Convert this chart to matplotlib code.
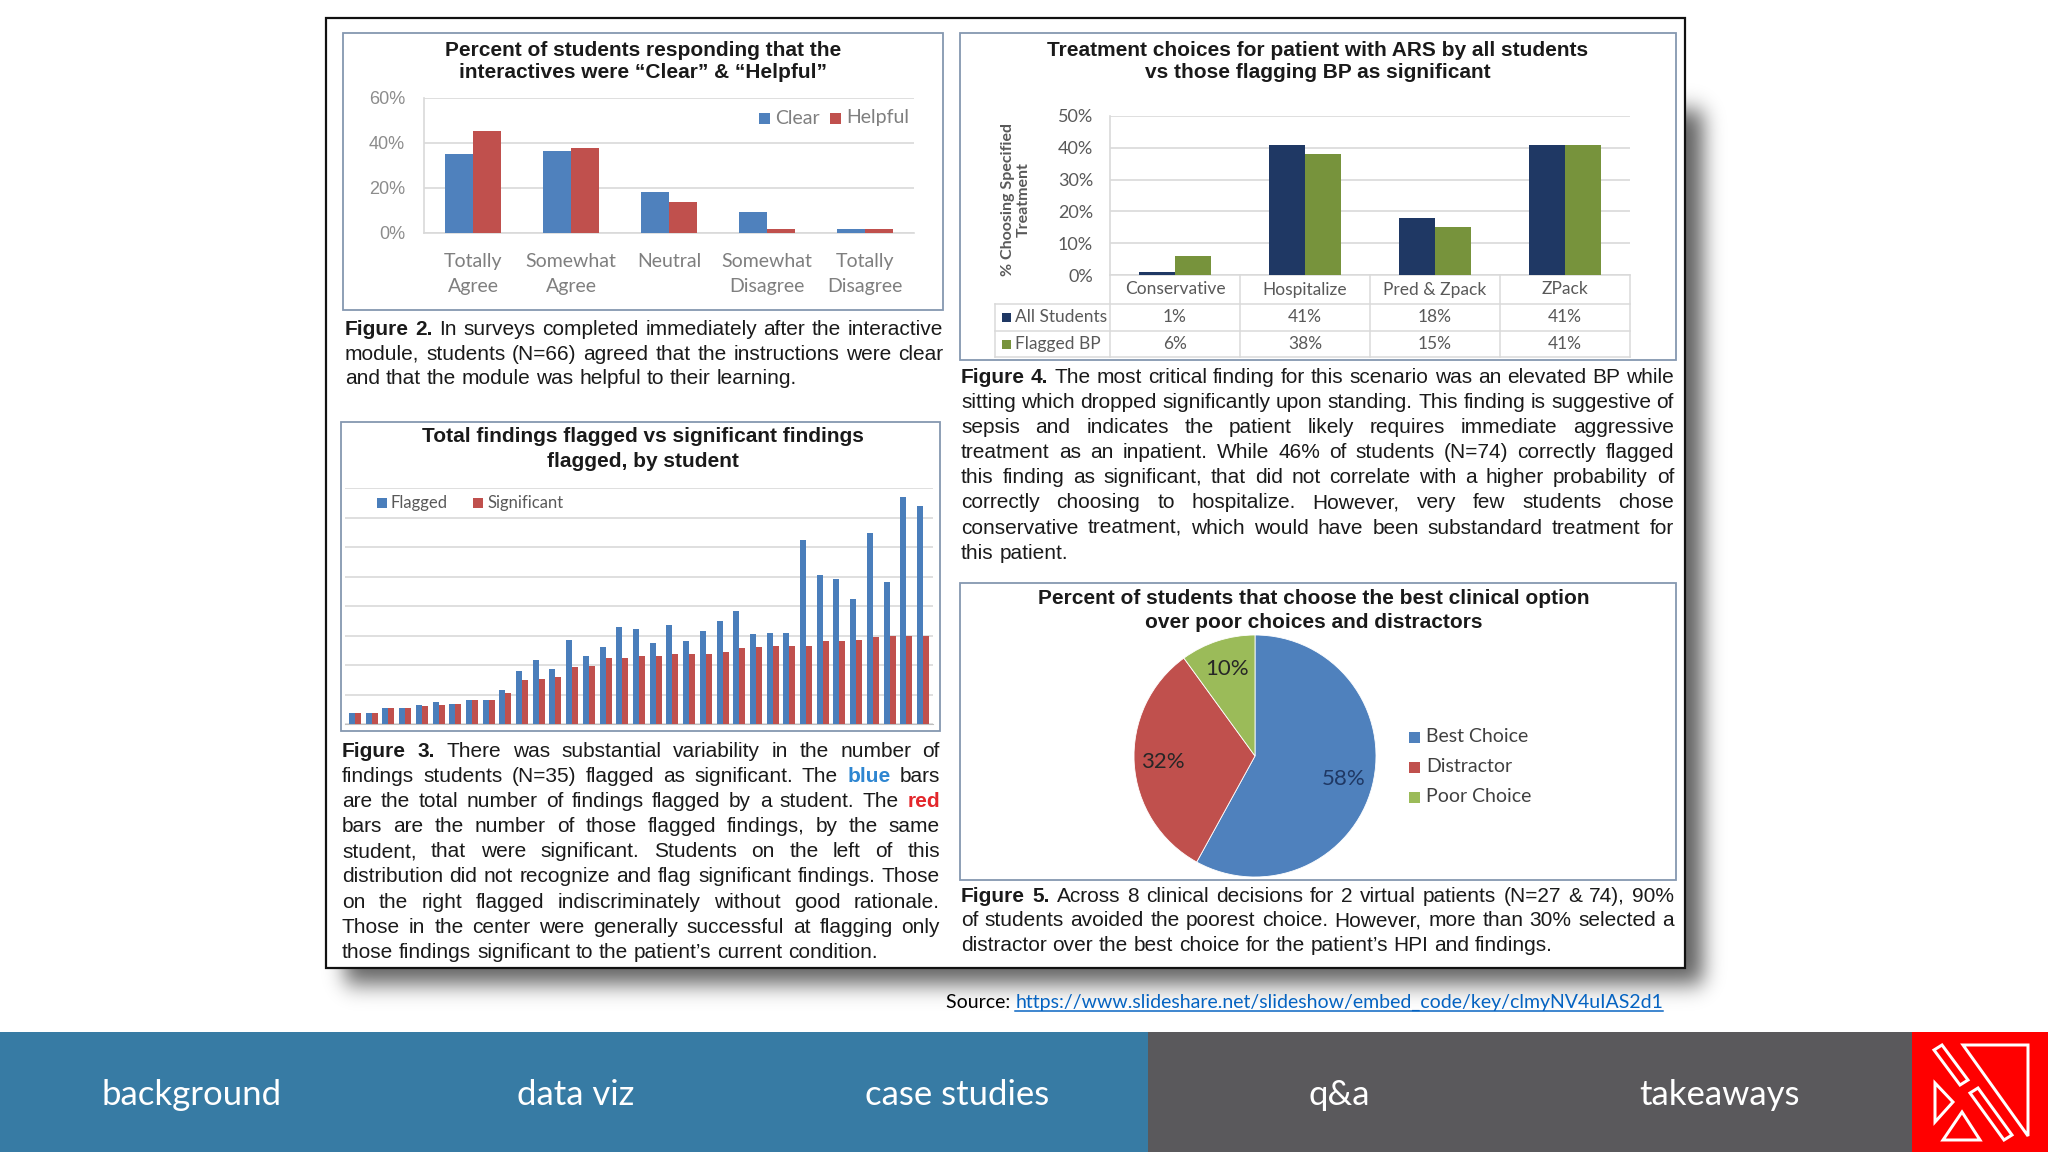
import math
import numpy as np
import matplotlib
matplotlib.use('Agg')
import matplotlib.pyplot as plt
from matplotlib.patches import Rectangle, Polygon

# ---------------- data ----------------
fig2_categories = ['Totally\nAgree', 'Somewhat\nAgree', 'Neutral', 'Somewhat\nDisagree', 'Totally\nDisagree']
fig2_clear = [34.8, 36.4, 18.2, 9.1, 1.5]
fig2_helpful = [45.5, 37.9, 13.6, 1.5, 1.5]
fig2_yticks = [0, 20, 40, 60]
fig2_series = ['Clear', 'Helpful']

fig3_flagged = [1.8, 1.8, 2.7, 2.7, 3.2, 3.7, 3.4, 4.0, 4.0, 5.7, 8.9, 10.9, 9.4, 14.2, 11.5,
                13.0, 16.4, 16.1, 13.7, 16.7, 14.0, 15.7, 17.4, 19.2, 15.3, 15.4, 15.4, 31.2,
                25.3, 24.5, 21.2, 32.4, 24.0, 38.5, 37.0]
fig3_significant = [1.8, 1.8, 2.7, 2.7, 3.0, 3.3, 3.4, 4.0, 4.0, 5.3, 7.5, 7.7, 8.0, 9.7, 9.9,
                    11.2, 11.2, 11.5, 11.5, 11.8, 11.9, 11.9, 12.2, 12.9, 13.0, 13.2, 13.2, 13.2,
                    14.0, 14.0, 14.2, 14.7, 15.0, 15.0, 15.0]
fig3_series = ['Flagged', 'Significant']

fig4_categories = ['Conservative', 'Hospitalize', 'Pred & Zpack', 'ZPack']
fig4_all = [1, 41, 18, 41]
fig4_flagged_bp = [6, 38, 15, 41]
fig4_series = ['All Students', 'Flagged BP']
fig4_yticks = [0, 10, 20, 30, 40, 50]

fig5_labels = ['Best Choice', 'Distractor', 'Poor Choice']
fig5_values = [58, 32, 10]

nav_items = ['background', 'data viz', 'case studies', 'q&a', 'takeaways']

titles = {
    'f2': ['Percent of students responding that the', 'interactives were \u201cClear\u201d & \u201cHelpful\u201d'],
    'f3': ['Total findings flagged vs significant findings', 'flagged, by student'],
    'f4': ['Treatment choices for patient with ARS by all students', 'vs those flagging BP as significant'],
    'f5': ['Percent of students that choose the best clinical option', 'over poor choices and distractors'],
}
cap2 = ["*Figure *2. In surveys completed immediately after the interactive",
        "module, students (N=66) agreed that the instructions were clear",
        "and that the module was helpful to their learning."]
cap3 = ["*Figure *3. There was substantial variability in the number of",
        "findings students (N=35) flagged as significant. The @blue bars",
        "are the total number of findings flagged by a student. The ^red",
        "bars are the number of those flagged findings, by the same",
        "student, that were significant. Students on the left of this",
        "distribution did not recognize and flag significant findings. Those",
        "on the right flagged indiscriminately without good rationale.",
        "Those in the center were generally successful at flagging only",
        "those findings significant to the patient\u2019s current condition."]
cap4 = ["*Figure *4. The most critical finding for this scenario was an elevated BP while",
        "sitting which dropped significantly upon standing. This finding is suggestive of",
        "sepsis and indicates the patient likely requires immediate aggressive",
        "treatment as an inpatient. While 46% of students (N=74) correctly flagged",
        "this finding as significant, that did not correlate with a higher probability of",
        "correctly choosing to hospitalize. However, very few students chose",
        "conservative treatment, which would have been substandard treatment for",
        "this patient."]
cap5 = ["*Figure *5. Across 8 clinical decisions for 2 virtual patients (N=27 & 74), 90%",
        "of students avoided the poorest choice.  However, more than 30% selected a",
        "distractor over the best choice for the patient\u2019s HPI and findings."]
source_label = 'Source: '
source_url = 'https://www.slideshare.net/slideshow/embed_code/key/clmyNV4uIAS2d1'

# ---------------- setup ----------------
W, H = 2048, 1152
fig = plt.figure(figsize=(W / 100, H / 100), dpi=100)
fig.patch.set_facecolor('white')
bg = fig.add_axes([0, 0, 1, 1], zorder=0)
bg.axis('off')

TXT = '#1a1a1a'
SANS = ['Liberation Sans', 'DejaVu Sans']
CAL = ['Lato', 'DejaVu Sans']
BLUE, RED = '#4F81BD', '#C0504D'
NAVY, GREEN = '#1F3864', '#77933C'
PGREEN = '#9BBB59'
GRID = '#D9D9D9'
GRAYTXT = '#7F7F7F'


def pos(x0, y0, x1, y1):
    return [x0 / W, 1 - y1 / H, (x1 - x0) / W, (y1 - y0) / H]


def px(v):
    return v * 0.72


# ---------------- shadow + panel ----------------
erf = np.vectorize(math.erf)


def blur_box(c, a, b, s):
    return 0.5 * (erf((c - a) / (s * math.sqrt(2))) - erf((c - b) / (s * math.sqrt(2))))


xs = np.arange(300, 1760) + 0.5
ys = np.arange(0, 1040) + 0.5
alpha = 0.62 * blur_box(ys, 110, 984, 11)[:, None] * blur_box(xs, 345, 1703, 10)[None, :]
img = np.zeros((len(ys), len(xs), 4))
img[..., 3] = alpha
bg.imshow(img, extent=(300, 1760, 1040, 0), aspect='auto', interpolation='bilinear', zorder=0)
bg.set_xlim(0, W)
bg.set_ylim(H, 0)

bg.add_patch(Rectangle((326, 18), 1359, 950, facecolor='white', edgecolor='#111111', lw=px(2.2), zorder=1))

BOXC = '#8497B0'
for (x0, y0, x1, y1) in [(343, 33, 943, 310), (341, 422, 940, 731), (960, 33, 1676, 360), (960, 583, 1676, 880)]:
    bg.add_patch(Rectangle((x0, y0), x1 - x0, y1 - y0, facecolor='none', edgecolor=BOXC, lw=px(1.8), zorder=2))


def title(lines, cx, y0, dy):
    for i, s in enumerate(lines):
        bg.text(cx, y0 + i * dy, s, ha='center', va='center', fontsize=15, fontweight='bold',
                family=SANS, color=TXT, zorder=3)


title(titles['f2'], 643, 50, 22.5)
title(titles['f3'], 643, 437, 24.5)
title(titles['f4'], 1318, 50, 22.5)
title(titles['f5'], 1314, 598, 24)

# ---------------- captions (justified) ----------------
renderer = fig.canvas.get_renderer()


def words_of(line):
    out = []
    for w in line.split():
        st = dict(color=TXT, fontweight='normal')
        if w.startswith('*'):
            w = w[1:]
            st['fontweight'] = 'bold'
        elif w.startswith('@'):
            w = w[1:]
            st.update(color='#2E86D1', fontweight='bold')
        elif w.startswith('^'):
            w = w[1:]
            st.update(color='#E3262B', fontweight='bold')
        out.append((w, st))
    return out


def paragraph(lines, x0, x1, y0, dy, size):
    space = 0.278 * size * 100 / 72
    for i, line in enumerate(lines):
        y = y0 + i * dy
        toks = words_of(line)
        ts = [bg.text(0, y, w, fontsize=size, family=SANS, ha='left', va='baseline', zorder=3, **st)
              for w, st in toks]
        ws = [t.get_window_extent(renderer).width for t in ts]
        last = (i == len(lines) - 1)
        gap = space if last or len(ts) < 2 else (x1 - x0 - sum(ws)) / (len(ts) - 1)
        x = x0
        for t, w in zip(ts, ws):
            t.set_x(x)
            x += w + gap


CAPSIZE = 15
paragraph(cap2, 345, 943, 335, 24.7, CAPSIZE)
paragraph(cap3, 342, 940, 757, 25.1, CAPSIZE)
paragraph(cap4, 961, 1674, 383, 25.1, CAPSIZE)
paragraph(cap5, 961, 1674, 902, 24.5, CAPSIZE)

# ---------------- Figure 2 chart ----------------
ax2 = fig.add_axes(pos(424, 98, 914, 232.5), zorder=2)
ax2.patch.set_alpha(0)
x2 = np.arange(len(fig2_categories))
bw2 = 0.29
ax2.bar(x2 - bw2 / 2, fig2_clear, bw2, color=BLUE, zorder=3)
ax2.bar(x2 + bw2 / 2, fig2_helpful, bw2, color=RED, zorder=3)
ax2.set_xlim(-0.5, len(fig2_categories) - 0.5)
ax2.set_ylim(0, 60)
ax2.set_yticks(fig2_yticks, [f'{v}%' for v in fig2_yticks], fontsize=13, family=SANS, color='#8C8C8C')
ax2.set_xticks(x2, fig2_categories, fontsize=14, family=CAL, color=GRAYTXT, linespacing=1.55)
ax2.tick_params(axis='y', length=0, pad=px(19))
ax2.tick_params(axis='x', length=0, pad=15)
ax2.yaxis.grid(True, color=GRID, lw=1.2)
ax2.set_axisbelow(True)
for s in ['top', 'right']:
    ax2.spines[s].set_visible(False)
for s in ['left', 'bottom']:
    ax2.spines[s].set_color(GRID)
    ax2.spines[s].set_linewidth(1.2)

# legend fig 2
for (sx, tx, lab, col) in [(759, 775, fig2_series[0], BLUE), (830, 846, fig2_series[1], RED)]:
    bg.add_patch(Rectangle((sx, 112.5), 11, 11, facecolor=col, edgecolor='none', zorder=3))
    bg.text(tx, 118, lab, fontsize=14, family=CAL, color=GRAYTXT, ha='left', va='center', zorder=3)

# ---------------- Figure 3 chart ----------------
ax3 = fig.add_axes(pos(345, 488, 933, 724), zorder=2)
ax3.patch.set_alpha(0)
x3 = np.arange(len(fig3_flagged))
bw3 = 0.36
ax3.bar(x3 - bw3 / 2, fig3_flagged, bw3, color='#4A7EBB', zorder=3)
ax3.bar(x3 + bw3 / 2, fig3_significant, bw3, color=RED, zorder=3)
ax3.set_xlim(-0.6, len(fig3_flagged) - 0.4)
ax3.set_ylim(0, 40)
ax3.set_yticks(np.arange(0, 41, 5))
ax3.set_yticklabels([])
ax3.set_xticks([])
ax3.tick_params(length=0)
ax3.yaxis.grid(True, color=GRID, lw=1.2)
ax3.set_axisbelow(True)
for s in ['top', 'right', 'left']:
    ax3.spines[s].set_visible(False)
ax3.spines['bottom'].set_color('#BFBFBF')

for (sx, tx, lab, col) in [(377, 391, fig3_series[0], '#4A7EBB'), (473, 487, fig3_series[1], RED)]:
    bg.add_patch(Rectangle((sx, 498), 10, 10, facecolor=col, edgecolor='none', zorder=3))
    bg.text(tx, 503, lab, fontsize=12, family=CAL, color='#595959', ha='left', va='center', zorder=3)

# ---------------- Figure 4 chart ----------------
ax4 = fig.add_axes(pos(1110, 116, 1630, 275), zorder=2)
ax4.patch.set_alpha(0)
x4 = np.arange(len(fig4_categories))
bw4 = 0.28
ax4.bar(x4 - bw4 / 2, fig4_all, bw4, color=NAVY, zorder=3)
ax4.bar(x4 + bw4 / 2, fig4_flagged_bp, bw4, color=GREEN, zorder=3)
ax4.set_xlim(-0.5, len(fig4_categories) - 0.5)
ax4.set_ylim(0, 50)
ax4.set_yticks(fig4_yticks, [f'{v}%' for v in fig4_yticks], fontsize=13, family=CAL, color='#595959')
ax4.set_xticks([])
ax4.tick_params(axis='y', length=0, pad=px(17))
ax4.yaxis.grid(True, color=GRID, lw=1.2)
ax4.set_axisbelow(True)
for s in ['top', 'right', 'bottom']:
    ax4.spines[s].set_visible(False)
ax4.spines['left'].set_color(GRID)
ax4.spines['left'].set_linewidth(1.2)

bg.text(1016, 200, '% Choosing Specified\nTreatment', rotation=90, ha='center', va='center',
        multialignment='center', fontsize=11.5, fontweight='bold', family=CAL, color='#595959',
        linespacing=1.2, zorder=3)

# data table
tl = dict(color=GRID, lw=px(1.5), zorder=3)
col_edges = [ax4.transData.transform((i - 0.5, 0))[0] for i in range(len(fig4_categories) + 1)]
col_cent = [ax4.transData.transform((i, 0))[0] for i in range(len(fig4_categories))]
row_y = [275, 304, 331, 357]
for yv in row_y:
    x_start = 1110 if yv == 275 else 995
    bg.plot([x_start, col_edges[-1]], [yv, yv], **tl)
for xe in col_edges:
    bg.plot([xe, xe], [275, 357], **tl)
bg.plot([995, 995], [304, 357], **tl)
for c, lab in zip(col_cent, fig4_categories):
    bg.text(c, 289.5, lab, ha='center', va='center', fontsize=12.5, family=CAL, color='#595959', zorder=4)
for r, (name, vals, col) in enumerate([(fig4_series[0], fig4_all, NAVY), (fig4_series[1], fig4_flagged_bp, GREEN)]):
    yc = 317.5 + r * 26.5
    bg.add_patch(Rectangle((1002, yc - 4.5), 9, 9, facecolor=col, edgecolor='none', zorder=4))
    bg.text(1015, yc, name, ha='left', va='center', fontsize=12.5, family=CAL, color='#595959', zorder=4)
    for c, v in zip(col_cent, vals):
        bg.text(c, yc, f'{v}%', ha='center', va='center', fontsize=12.5, family=CAL, color='#595959', zorder=4)

# ---------------- Figure 5 pie ----------------
cx, cy, r = 1255, 756, 121
ax5 = fig.add_axes(pos(cx - r, cy - r, cx + r, cy + r), zorder=2)
wedges, _, autotexts = ax5.pie(fig5_values, colors=[BLUE, RED, PGREEN], startangle=90, counterclock=False,
                               autopct=lambda p: f'{p:.0f}%', pctdistance=0.76,
                               wedgeprops=dict(linewidth=0.6, edgecolor='white'),
                               textprops=dict(fontsize=16, family=CAL, color='#262626'))
autotexts[0].set_color(NAVY)
ax5.set_xlim(-1, 1)
ax5.set_ylim(-1, 1)
ax5.set_aspect('auto')
ax5.axis('off')

for i, (lab, col) in enumerate(zip(fig5_labels, [BLUE, RED, PGREEN])):
    yc = 737 + i * 30
    bg.add_patch(Rectangle((1409, yc - 5.5), 11, 11, facecolor=col, edgecolor='none', zorder=3))
    bg.text(1426, yc, lab, ha='left', va='center', fontsize=14, family=CAL, color='#404040', zorder=3)

# ---------------- source ----------------
t_src = bg.text(946, 1002, source_label, ha='left', va='center', fontsize=14, family=CAL, color='black', zorder=3)
wsrc = t_src.get_window_extent(renderer).width
t_url = bg.text(946 + wsrc, 1002, source_url, ha='left', va='center', fontsize=14, family=CAL,
                color='#0563C1', zorder=3)
wurl = t_url.get_window_extent(renderer).width
bg.plot([946 + wsrc, 946 + wsrc + wurl], [1011, 1011], color='#0563C1', lw=px(1.5), zorder=3)

# ---------------- nav bar ----------------
bg.add_patch(Rectangle((0, 1032), 1148, 120, facecolor='#377BA4', edgecolor='none', zorder=2))
bg.add_patch(Rectangle((1148, 1032), 764, 120, facecolor='#5A595C', edgecolor='none', zorder=2))
bg.add_patch(Rectangle((1912, 1032), 136, 120, facecolor='#FF0000', edgecolor='none', zorder=2))
nav_x = [192, 576, 957, 1339, 1720]
for nx, s in zip(nav_x, nav_items):
    bg.text(nx, 1095, s, ha='center', va='center', fontsize=25, family=CAL, fontweight='normal',
            color='white', zorder=3)

# logo
lw_logo = px(3)
logo_polys = [
    [(1963, 1045), (2028, 1045), (2028, 1136)],
    [(1935, 1083), (1935, 1122), (1953, 1102)],
    [(1943, 1140), (1980, 1140), (1962, 1112)],
    [(1934, 1050), (1942, 1045), (1968, 1080), (1960, 1085)],
    [(1970, 1093), (1978, 1088), (2012, 1135), (2004, 1140)],
]
for pts in logo_polys:
    bg.add_patch(Polygon(pts, closed=True, facecolor='none', edgecolor='white', lw=lw_logo,
                         joinstyle='miter', zorder=3))

fig.savefig('out.png', dpi=100, facecolor='white')
